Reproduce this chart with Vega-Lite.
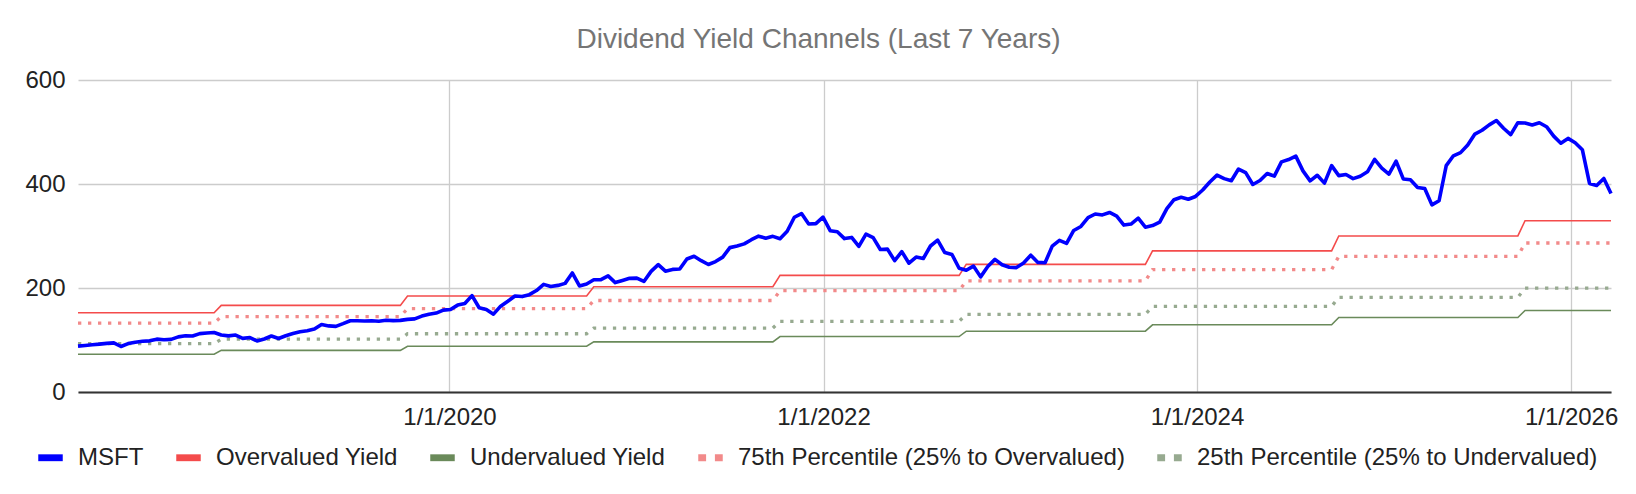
{
  "$schema": "https://vega.github.io/schema/vega-lite/v6.json",
  "width": 1533,
  "height": 312,
  "autosize": {"type": "none"},
  "padding": {"left": 78, "top": 80, "right": 25, "bottom": 102},
  "background": "white",
  "title": {"text": "Dividend Yield Channels (Last 7 Years)", "font": "Liberation Sans", "fontSize": 28, "fontWeight": "normal", "color": "#757575", "anchor": "middle", "dx": -26, "dy": 41, "offset": 33, "baseline": "alphabetic"},
  "data": {"values": [
    {"d":"2018-01-05","s":"MSFT","v":88.2},{"d":"2018-01-19","s":"MSFT","v":89.5},{"d":"2018-02-02","s":"MSFT","v":91},{"d":"2018-02-16","s":"MSFT","v":92},{"d":"2018-03-02","s":"MSFT","v":93.5},{"d":"2018-03-16","s":"MSFT","v":94.5},{"d":"2018-03-30","s":"MSFT","v":87.5},{"d":"2018-04-13","s":"MSFT","v":93.1},{"d":"2018-04-27","s":"MSFT","v":95.8},{"d":"2018-05-11","s":"MSFT","v":97.7},{"d":"2018-05-25","s":"MSFT","v":98.4},{"d":"2018-06-08","s":"MSFT","v":101.6},{"d":"2018-06-22","s":"MSFT","v":100.4},{"d":"2018-07-06","s":"MSFT","v":101.2},{"d":"2018-07-20","s":"MSFT","v":106},{"d":"2018-08-03","s":"MSFT","v":108},{"d":"2018-08-17","s":"MSFT","v":107.6},{"d":"2018-08-31","s":"MSFT","v":112.3},{"d":"2018-09-14","s":"MSFT","v":113.4},{"d":"2018-09-28","s":"MSFT","v":114.4},{"d":"2018-10-12","s":"MSFT","v":109.6},{"d":"2018-10-26","s":"MSFT","v":108},{"d":"2018-11-09","s":"MSFT","v":109.6},{"d":"2018-11-23","s":"MSFT","v":103.1},{"d":"2018-12-07","s":"MSFT","v":104.8},{"d":"2018-12-21","s":"MSFT","v":98.2},
    {"d":"2019-01-04","s":"MSFT","v":101.9},{"d":"2019-01-18","s":"MSFT","v":107.7},{"d":"2019-02-01","s":"MSFT","v":102.8},{"d":"2019-02-15","s":"MSFT","v":108.2},{"d":"2019-03-01","s":"MSFT","v":112.5},{"d":"2019-03-15","s":"MSFT","v":115.9},{"d":"2019-03-29","s":"MSFT","v":117.9},{"d":"2019-04-12","s":"MSFT","v":121},{"d":"2019-04-26","s":"MSFT","v":129.9},{"d":"2019-05-10","s":"MSFT","v":127.1},{"d":"2019-05-24","s":"MSFT","v":126.2},{"d":"2019-06-07","s":"MSFT","v":131.4},{"d":"2019-06-21","s":"MSFT","v":137},{"d":"2019-07-05","s":"MSFT","v":137.1},{"d":"2019-07-19","s":"MSFT","v":136.6},{"d":"2019-08-02","s":"MSFT","v":136.9},{"d":"2019-08-16","s":"MSFT","v":136.1},{"d":"2019-08-30","s":"MSFT","v":137.9},{"d":"2019-09-13","s":"MSFT","v":137.3},{"d":"2019-09-27","s":"MSFT","v":137.7},{"d":"2019-10-11","s":"MSFT","v":139.7},{"d":"2019-10-25","s":"MSFT","v":140.7},{"d":"2019-11-08","s":"MSFT","v":146},{"d":"2019-11-22","s":"MSFT","v":149.6},{"d":"2019-12-06","s":"MSFT","v":151.75},{"d":"2019-12-20","s":"MSFT","v":157.4},
    {"d":"2020-01-03","s":"MSFT","v":158.6},{"d":"2020-01-17","s":"MSFT","v":167.1},{"d":"2020-01-31","s":"MSFT","v":170.2},{"d":"2020-02-14","s":"MSFT","v":185.35},{"d":"2020-02-28","s":"MSFT","v":162},{"d":"2020-03-13","s":"MSFT","v":158.8},{"d":"2020-03-27","s":"MSFT","v":149.7},{"d":"2020-04-10","s":"MSFT","v":165.1},{"d":"2020-04-24","s":"MSFT","v":174.55},{"d":"2020-05-08","s":"MSFT","v":184.7},{"d":"2020-05-22","s":"MSFT","v":183.5},{"d":"2020-06-05","s":"MSFT","v":187.2},{"d":"2020-06-19","s":"MSFT","v":195.15},{"d":"2020-07-03","s":"MSFT","v":207},{"d":"2020-07-17","s":"MSFT","v":202.9},{"d":"2020-07-31","s":"MSFT","v":205},{"d":"2020-08-14","s":"MSFT","v":208.9},{"d":"2020-08-28","s":"MSFT","v":228.9},{"d":"2020-09-11","s":"MSFT","v":204},{"d":"2020-09-25","s":"MSFT","v":207.8},{"d":"2020-10-09","s":"MSFT","v":215.8},{"d":"2020-10-23","s":"MSFT","v":216.2},{"d":"2020-11-06","s":"MSFT","v":223.3},{"d":"2020-11-20","s":"MSFT","v":210.4},{"d":"2020-12-04","s":"MSFT","v":214.4},{"d":"2020-12-18","s":"MSFT","v":218.6},
    {"d":"2021-01-01","s":"MSFT","v":219},{"d":"2021-01-15","s":"MSFT","v":212.65},{"d":"2021-01-29","s":"MSFT","v":231.96},{"d":"2021-02-12","s":"MSFT","v":244.99},{"d":"2021-02-26","s":"MSFT","v":232.4},{"d":"2021-03-12","s":"MSFT","v":235.75},{"d":"2021-03-26","s":"MSFT","v":236.5},{"d":"2021-04-09","s":"MSFT","v":255.85},{"d":"2021-04-23","s":"MSFT","v":261.15},{"d":"2021-05-07","s":"MSFT","v":252.5},{"d":"2021-05-21","s":"MSFT","v":245.2},{"d":"2021-06-04","s":"MSFT","v":250.8},{"d":"2021-06-18","s":"MSFT","v":259.4},{"d":"2021-07-02","s":"MSFT","v":277.65},{"d":"2021-07-16","s":"MSFT","v":280.75},{"d":"2021-07-30","s":"MSFT","v":284.9},{"d":"2021-08-13","s":"MSFT","v":292.85},{"d":"2021-08-27","s":"MSFT","v":299.7},{"d":"2021-09-10","s":"MSFT","v":295.7},{"d":"2021-09-24","s":"MSFT","v":299.35},{"d":"2021-10-08","s":"MSFT","v":294.85},{"d":"2021-10-22","s":"MSFT","v":309.16},{"d":"2021-11-05","s":"MSFT","v":336.06},{"d":"2021-11-19","s":"MSFT","v":343.11},{"d":"2021-12-03","s":"MSFT","v":323.01},{"d":"2021-12-17","s":"MSFT","v":323.8},{"d":"2021-12-31","s":"MSFT","v":336.3},
    {"d":"2022-01-14","s":"MSFT","v":310.2},{"d":"2022-01-28","s":"MSFT","v":308.26},{"d":"2022-02-11","s":"MSFT","v":295.04},{"d":"2022-02-25","s":"MSFT","v":297.26},{"d":"2022-03-11","s":"MSFT","v":280.07},{"d":"2022-03-25","s":"MSFT","v":303.68},{"d":"2022-04-08","s":"MSFT","v":296.97},{"d":"2022-04-22","s":"MSFT","v":274.03},{"d":"2022-05-06","s":"MSFT","v":274.73},{"d":"2022-05-20","s":"MSFT","v":252.56},{"d":"2022-06-03","s":"MSFT","v":270.02},{"d":"2022-06-17","s":"MSFT","v":247.65},{"d":"2022-07-01","s":"MSFT","v":259.58},{"d":"2022-07-15","s":"MSFT","v":256.72},{"d":"2022-07-29","s":"MSFT","v":280.74},{"d":"2022-08-12","s":"MSFT","v":291.91},{"d":"2022-08-26","s":"MSFT","v":268.09},{"d":"2022-09-09","s":"MSFT","v":264.46},{"d":"2022-09-23","s":"MSFT","v":237.92},{"d":"2022-10-07","s":"MSFT","v":234.24},{"d":"2022-10-21","s":"MSFT","v":242.12},{"d":"2022-11-04","s":"MSFT","v":221.39},{"d":"2022-11-18","s":"MSFT","v":241.22},{"d":"2022-12-02","s":"MSFT","v":255.02},{"d":"2022-12-16","s":"MSFT","v":244.69},{"d":"2022-12-30","s":"MSFT","v":239.82},
    {"d":"2023-01-13","s":"MSFT","v":239.23},{"d":"2023-01-27","s":"MSFT","v":248.16},{"d":"2023-02-10","s":"MSFT","v":263.1},{"d":"2023-02-24","s":"MSFT","v":249.22},{"d":"2023-03-10","s":"MSFT","v":248.59},{"d":"2023-03-24","s":"MSFT","v":280.57},{"d":"2023-04-07","s":"MSFT","v":291.6},{"d":"2023-04-21","s":"MSFT","v":285.76},{"d":"2023-05-05","s":"MSFT","v":310.65},{"d":"2023-05-19","s":"MSFT","v":318.34},{"d":"2023-06-02","s":"MSFT","v":335.4},{"d":"2023-06-16","s":"MSFT","v":342.33},{"d":"2023-06-30","s":"MSFT","v":340.54},{"d":"2023-07-14","s":"MSFT","v":345.24},{"d":"2023-07-28","s":"MSFT","v":338.37},{"d":"2023-08-11","s":"MSFT","v":321.01},{"d":"2023-08-25","s":"MSFT","v":322.98},{"d":"2023-09-08","s":"MSFT","v":334.27},{"d":"2023-09-22","s":"MSFT","v":317.01},{"d":"2023-10-06","s":"MSFT","v":320},{"d":"2023-10-20","s":"MSFT","v":326.67},{"d":"2023-11-03","s":"MSFT","v":352.8},{"d":"2023-11-17","s":"MSFT","v":369.85},{"d":"2023-12-01","s":"MSFT","v":374.51},{"d":"2023-12-15","s":"MSFT","v":370.73},{"d":"2023-12-29","s":"MSFT","v":376.04},
    {"d":"2024-01-12","s":"MSFT","v":388.47},{"d":"2024-01-26","s":"MSFT","v":403.93},{"d":"2024-02-09","s":"MSFT","v":417},{"d":"2024-02-23","s":"MSFT","v":410.34},{"d":"2024-03-08","s":"MSFT","v":406.22},{"d":"2024-03-22","s":"MSFT","v":428.74},{"d":"2024-04-05","s":"MSFT","v":422},{"d":"2024-04-19","s":"MSFT","v":399.12},{"d":"2024-05-03","s":"MSFT","v":406.66},{"d":"2024-05-17","s":"MSFT","v":420.21},{"d":"2024-05-31","s":"MSFT","v":415.13},{"d":"2024-06-14","s":"MSFT","v":442.57},{"d":"2024-06-28","s":"MSFT","v":446.95},{"d":"2024-07-12","s":"MSFT","v":453.55},{"d":"2024-07-26","s":"MSFT","v":425.27},{"d":"2024-08-09","s":"MSFT","v":406.02},{"d":"2024-08-23","s":"MSFT","v":416.79},{"d":"2024-09-06","s":"MSFT","v":401.7},{"d":"2024-09-20","s":"MSFT","v":435.27},{"d":"2024-10-04","s":"MSFT","v":416.06},{"d":"2024-10-18","s":"MSFT","v":418.16},{"d":"2024-11-01","s":"MSFT","v":410.37},{"d":"2024-11-15","s":"MSFT","v":415},{"d":"2024-11-29","s":"MSFT","v":423.46},{"d":"2024-12-13","s":"MSFT","v":447.27},{"d":"2024-12-27","s":"MSFT","v":430.53},
    {"d":"2025-01-10","s":"MSFT","v":418.95},{"d":"2025-01-24","s":"MSFT","v":444.06},{"d":"2025-02-07","s":"MSFT","v":409.75},{"d":"2025-02-21","s":"MSFT","v":408.21},{"d":"2025-03-07","s":"MSFT","v":393.31},{"d":"2025-03-21","s":"MSFT","v":391.26},{"d":"2025-04-04","s":"MSFT","v":359.84},{"d":"2025-04-18","s":"MSFT","v":367.78},{"d":"2025-05-02","s":"MSFT","v":435.28},{"d":"2025-05-16","s":"MSFT","v":454.27},{"d":"2025-05-30","s":"MSFT","v":460.36},{"d":"2025-06-13","s":"MSFT","v":474.96},{"d":"2025-06-27","s":"MSFT","v":495.94},{"d":"2025-07-11","s":"MSFT","v":503.32},{"d":"2025-07-25","s":"MSFT","v":513.71},{"d":"2025-08-08","s":"MSFT","v":522.04},{"d":"2025-08-22","s":"MSFT","v":507.23},{"d":"2025-09-05","s":"MSFT","v":495},{"d":"2025-09-19","s":"MSFT","v":517.93},{"d":"2025-10-03","s":"MSFT","v":517.35},{"d":"2025-10-17","s":"MSFT","v":513.58},{"d":"2025-10-31","s":"MSFT","v":517.81},{"d":"2025-11-14","s":"MSFT","v":510.18},{"d":"2025-11-28","s":"MSFT","v":492.01},{"d":"2025-12-12","s":"MSFT","v":478.53},{"d":"2025-12-26","s":"MSFT","v":487.71},
    {"d":"2026-01-09","s":"MSFT","v":479.28},{"d":"2026-01-23","s":"MSFT","v":465.95},{"d":"2026-02-06","s":"MSFT","v":401.14},{"d":"2026-02-20","s":"MSFT","v":397.23},{"d":"2026-03-06","s":"MSFT","v":410.68},{"d":"2026-03-20","s":"MSFT","v":381.87},

    {"d":"2018-01-05","s":"Overvalued Yield","v":152.5},{"d":"2018-09-28","s":"Overvalued Yield","v":152.5},{"d":"2018-10-12","s":"Overvalued Yield","v":166.5},{"d":"2019-09-27","s":"Overvalued Yield","v":166.5},{"d":"2019-10-11","s":"Overvalued Yield","v":184.5},{"d":"2020-09-25","s":"Overvalued Yield","v":184.5},{"d":"2020-10-09","s":"Overvalued Yield","v":202.5},{"d":"2021-09-24","s":"Overvalued Yield","v":202.5},{"d":"2021-10-08","s":"Overvalued Yield","v":224.2},{"d":"2022-09-23","s":"Overvalued Yield","v":224.2},{"d":"2022-10-07","s":"Overvalued Yield","v":245.5},{"d":"2023-09-22","s":"Overvalued Yield","v":245.5},{"d":"2023-10-06","s":"Overvalued Yield","v":271.3},{"d":"2024-09-20","s":"Overvalued Yield","v":271.3},{"d":"2024-10-04","s":"Overvalued Yield","v":300.1},{"d":"2025-09-19","s":"Overvalued Yield","v":300.1},{"d":"2025-10-03","s":"Overvalued Yield","v":329.4},{"d":"2026-03-20","s":"Overvalued Yield","v":329.4},

    {"d":"2018-01-05","s":"Undervalued Yield","v":72.5},{"d":"2018-09-28","s":"Undervalued Yield","v":72.5},{"d":"2018-10-12","s":"Undervalued Yield","v":80},{"d":"2019-09-27","s":"Undervalued Yield","v":80},{"d":"2019-10-11","s":"Undervalued Yield","v":88},{"d":"2020-09-25","s":"Undervalued Yield","v":88},{"d":"2020-10-09","s":"Undervalued Yield","v":96.3},{"d":"2021-09-24","s":"Undervalued Yield","v":96.3},{"d":"2021-10-08","s":"Undervalued Yield","v":106.6},{"d":"2022-09-23","s":"Undervalued Yield","v":106.6},{"d":"2022-10-07","s":"Undervalued Yield","v":116.9},{"d":"2023-09-22","s":"Undervalued Yield","v":116.9},{"d":"2023-10-06","s":"Undervalued Yield","v":129.2},{"d":"2024-09-20","s":"Undervalued Yield","v":129.2},{"d":"2024-10-04","s":"Undervalued Yield","v":143.3},{"d":"2025-09-19","s":"Undervalued Yield","v":143.3},{"d":"2025-10-03","s":"Undervalued Yield","v":156.8},{"d":"2026-03-20","s":"Undervalued Yield","v":156.8},

    {"d":"2018-01-05","s":"75th Percentile (25% to Overvalued)","v":132.5},{"d":"2018-09-28","s":"75th Percentile (25% to Overvalued)","v":132.5},{"d":"2018-10-12","s":"75th Percentile (25% to Overvalued)","v":145},{"d":"2019-09-27","s":"75th Percentile (25% to Overvalued)","v":145},{"d":"2019-10-11","s":"75th Percentile (25% to Overvalued)","v":160.5},{"d":"2020-09-25","s":"75th Percentile (25% to Overvalued)","v":160.5},{"d":"2020-10-09","s":"75th Percentile (25% to Overvalued)","v":176},{"d":"2021-09-24","s":"75th Percentile (25% to Overvalued)","v":176},{"d":"2021-10-08","s":"75th Percentile (25% to Overvalued)","v":194.8},{"d":"2022-09-23","s":"75th Percentile (25% to Overvalued)","v":194.8},{"d":"2022-10-07","s":"75th Percentile (25% to Overvalued)","v":213.6},{"d":"2023-09-22","s":"75th Percentile (25% to Overvalued)","v":213.6},{"d":"2023-10-06","s":"75th Percentile (25% to Overvalued)","v":235.5},{"d":"2024-09-20","s":"75th Percentile (25% to Overvalued)","v":235.5},{"d":"2024-10-04","s":"75th Percentile (25% to Overvalued)","v":261},{"d":"2025-09-19","s":"75th Percentile (25% to Overvalued)","v":261},{"d":"2025-10-03","s":"75th Percentile (25% to Overvalued)","v":286.5},{"d":"2026-03-20","s":"75th Percentile (25% to Overvalued)","v":286.5},

    {"d":"2018-01-05","s":"25th Percentile (25% to Undervalued)","v":93},{"d":"2018-09-28","s":"25th Percentile (25% to Undervalued)","v":93},{"d":"2018-10-12","s":"25th Percentile (25% to Undervalued)","v":101.5},{"d":"2019-09-27","s":"25th Percentile (25% to Undervalued)","v":101.5},{"d":"2019-10-11","s":"25th Percentile (25% to Undervalued)","v":112},{"d":"2020-09-25","s":"25th Percentile (25% to Undervalued)","v":112},{"d":"2020-10-09","s":"25th Percentile (25% to Undervalued)","v":123},{"d":"2021-09-24","s":"25th Percentile (25% to Undervalued)","v":123},{"d":"2021-10-08","s":"25th Percentile (25% to Undervalued)","v":136},{"d":"2022-09-23","s":"25th Percentile (25% to Undervalued)","v":136},{"d":"2022-10-07","s":"25th Percentile (25% to Undervalued)","v":149.3},{"d":"2023-09-22","s":"25th Percentile (25% to Undervalued)","v":149.3},{"d":"2023-10-06","s":"25th Percentile (25% to Undervalued)","v":164.8},{"d":"2024-09-20","s":"25th Percentile (25% to Undervalued)","v":164.8},{"d":"2024-10-04","s":"25th Percentile (25% to Undervalued)","v":182},{"d":"2025-09-19","s":"25th Percentile (25% to Undervalued)","v":182},{"d":"2025-10-03","s":"25th Percentile (25% to Undervalued)","v":199.6},{"d":"2026-03-20","s":"25th Percentile (25% to Undervalued)","v":199.6}
  ]},
  "encoding": {
    "x": {"field": "d", "type": "temporal",
      "scale": {"type": "utc", "domain": [{"year": 2018, "month": 1, "date": 5, "utc": true}, {"year": 2026, "month": 3, "date": 20, "utc": true}]},
      "axis": {"title": null, "values": [{"year": 2020, "month": 1, "date": 1, "utc": true}, {"year": 2022, "month": 1, "date": 1, "utc": true}, {"year": 2024, "month": 1, "date": 1, "utc": true}, {"year": 2026, "month": 1, "date": 1, "utc": true}],
        "format": "%-m/%-d/%Y", "labelAngle": 0, "labelFlush": false, "labelFont": "Liberation Sans", "labelFontSize": 24, "labelColor": "#222222", "labelPadding": 32, "labelBaseline": "alphabetic",
        "ticks": false, "grid": true, "gridColor": "#cccccc", "gridWidth": 1.3, "domain": true, "domainColor": "#333333", "domainWidth": 2,
        "encode": {"labels": {"update": {"dx": {"signal": "utcyear(datum.value) === 2026 ? -7 : 0"}}}}}},
    "y": {"field": "v", "type": "quantitative",
      "scale": {"domain": [0, 600], "nice": false},
      "axis": {"title": null, "values": [0, 200, 400, 600], "labelFont": "Liberation Sans", "labelFontSize": 24, "labelColor": "#222222", "labelPadding": 13, "ticks": false, "domain": false, "grid": true, "gridColor": "#cccccc", "gridWidth": 1.3}},
    "color": {"field": "s", "type": "nominal",
      "scale": {"domain": ["MSFT", "Overvalued Yield", "Undervalued Yield", "75th Percentile (25% to Overvalued)", "25th Percentile (25% to Undervalued)"], "range": ["#0000ff", "#f44b4b", "#6a8a5a", "#f28a8a", "#97aa90"]},
      "legend": {"title": null, "orient": "none", "legendX": -40, "legendY": 365, "direction": "horizontal", "columns": 5, "padding": 0,
        "symbolSize": 600, "labelFont": "Liberation Sans", "labelFontSize": 24, "labelColor": "#222222", "labelOffset": 15, "columnPadding": 32, "labelLimit": 600,
        "encode": {"symbols": {"update": {
          "shape": {"signal": "indexof(datum.value, 'Percentile') >= 0 ? 'M-1,-0.28H-0.36V0.28H-1Z M0.36,-0.28H1V0.28H0.36Z' : 'M-1,-0.28H1V0.28H-1Z'"},
          "fill": {"scale": "color", "field": "value"},
          "stroke": {"value": "transparent"},
          "strokeWidth": {"value": 0},
          "opacity": {"value": 1}}}}}}
  },
  "layer": [
    {"transform": [{"filter": "datum.s === 'Overvalued Yield' || datum.s === 'Undervalued Yield'"}], "mark": {"type": "line", "strokeWidth": 1.6}},
    {"transform": [{"filter": "indexof(datum.s, 'Percentile') >= 0"}], "mark": {"type": "line", "strokeWidth": 3.3, "strokeDash": [3.3, 6.7]}},
    {"transform": [{"filter": "datum.s === 'MSFT'"}], "mark": {"type": "line", "strokeWidth": 3.6, "strokeJoin": "round"}}
  ],
  "config": {"view": {"stroke": null}, "font": "Liberation Sans"}
}
